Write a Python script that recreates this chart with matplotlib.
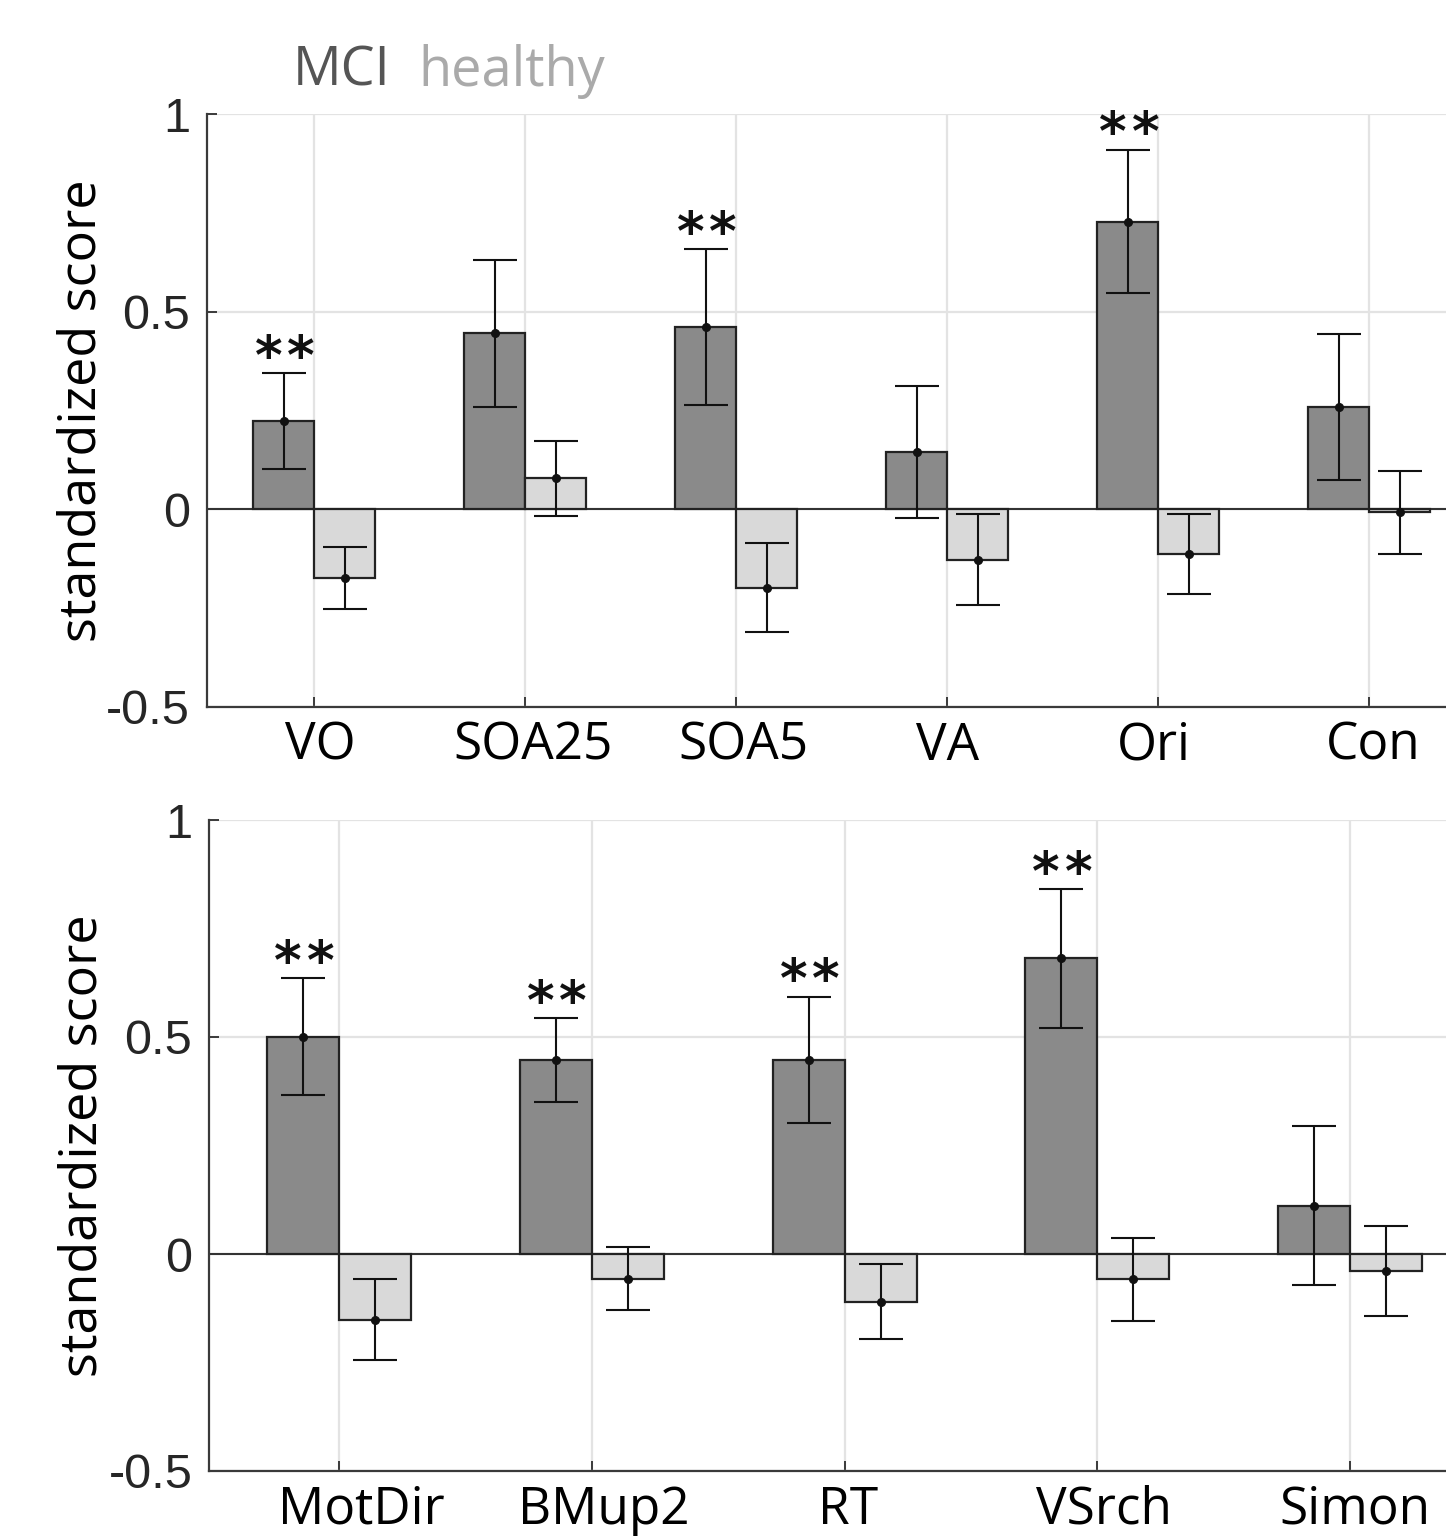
import matplotlib
matplotlib.use("Agg")
import matplotlib.pyplot as plt
import numpy as np

# ---- data ----
top_cats = ["VO", "SOA25", "SOA5", "VA", "Ori", "Con"]
top_mci = [0.223, 0.445, 0.462, 0.144, 0.728, 0.258]
top_mci_err = [0.121, 0.186, 0.197, 0.167, 0.182, 0.185]
top_healthy = [-0.174, 0.078, -0.198, -0.127, -0.113, -0.008]
top_healthy_err = [0.079, 0.094, 0.112, 0.116, 0.101, 0.105]
top_sig = [True, False, True, False, True, False]

bot_cats = ["MotDir", "BMup2", "RT", "VSrch", "Simon"]
bot_mci = [0.501, 0.447, 0.447, 0.681, 0.111]
bot_mci_err = [0.135, 0.096, 0.146, 0.160, 0.183]
bot_healthy = [-0.151, -0.057, -0.110, -0.058, -0.039]
bot_healthy_err = [0.093, 0.073, 0.086, 0.096, 0.104]
bot_sig = [True, True, True, True, False]

yticks = [-0.5, 0, 0.5, 1]
ytick_labels = ["-0.5", "0", "0.5", "1"]

# small horizontal nudges of the category labels (pixels), as in the original
top_label_shift = [6, 8, 7, 0, -5, 4]
bot_label_shift = [22, 12, 3, 7, 5]

MCI_COLOR = "#8a8a8a"
HEALTHY_COLOR = "#d9d9d9"
EDGE = "#222222"
GRID = "#e3e3e3"
SPINE = "#3a3a3a"

W, H = 1446, 1540
DPI = 100
PX = 72.0 / DPI  # points per pixel
fig = plt.figure(figsize=(W / DPI, H / DPI), dpi=DPI)


def draw(ax, cats, mci, mci_err, healthy, healthy_err, sig, width, xlim,
         shifts, label_x):
    x = np.arange(1, len(cats) + 1)
    ax.set_xlim(*xlim)
    ax.set_ylim(-0.5, 1)
    ax.set_axisbelow(True)
    ax.grid(True, color=GRID, linewidth=1.6)
    ax.axhline(0, color="#333333", linewidth=1.5, zorder=1.5)
    ax.bar(x - width / 2, mci, width, color=MCI_COLOR, edgecolor=EDGE,
           linewidth=1.6, zorder=2)
    ax.bar(x + width / 2, healthy, width, color=HEALTHY_COLOR, edgecolor=EDGE,
           linewidth=1.6, zorder=2)
    ekw = dict(fmt="o", color="#111111", ecolor="#111111", markersize=5.5,
               elinewidth=1.5, capsize=16, capthick=1.5, zorder=3)
    ax.errorbar(x - width / 2, mci, yerr=mci_err, **ekw)
    ax.errorbar(x + width / 2, healthy, yerr=healthy_err, **ekw)
    for xi, v, e, s in zip(x, mci, mci_err, sig):
        if s:
            for dx in (-11.0, 12.5):
                ax.annotate("*", xy=(xi - width / 2, v + e), xytext=(dx, -0.5),
                            textcoords="offset points", ha="center",
                            va="baseline", fontfamily="DejaVu Sans",
                            fontweight="bold", fontsize=38, color="#111111")
    ax.set_xticks(x)
    ax.set_xticklabels([])
    for xi, cat, sh in zip(x, cats, shifts):
        ax.annotate(cat, xy=(xi, 0), xycoords=ax.get_xaxis_transform(),
                    xytext=(sh * PX, -10), textcoords="offset points",
                    ha="center", va="top", fontfamily="Open Sans",
                    fontsize=37, color="black", annotation_clip=False)
    ax.set_yticks(yticks)
    ax.set_yticklabels(ytick_labels, fontfamily="Liberation Sans", fontsize=35,
                       color="#262626")
    ax.tick_params(axis="x", direction="in", length=7, width=1.4, color=SPINE,
                   pad=10)
    ax.tick_params(axis="y", direction="in", length=7, width=1.4, color=SPINE,
                   pad=12)
    for side in ("top", "right"):
        ax.spines[side].set_visible(False)
    for side in ("left", "bottom"):
        ax.spines[side].set_color(SPINE)
        ax.spines[side].set_linewidth(1.6)
    ax.set_ylabel("standardized score", fontfamily="Open Sans", fontsize=37.5,
                  color="black")
    ax.yaxis.set_label_coords(label_x, 0.5)


l1 = 206.7
ax1 = fig.add_axes([l1 / W, 1 - 707 / H, (W - l1) / W, (707 - 114) / H])
draw(ax1, top_cats, top_mci, top_mci_err, top_healthy, top_healthy_err,
     top_sig, 0.289, (0.49, 6.363), top_label_shift, (108 - l1) / (W - l1))

l2 = 209
ax2 = fig.add_axes([l2 / W, 1 - 1471 / H, (W - l2) / W, (1471 - 820) / H])
draw(ax2, bot_cats, bot_mci, bot_mci_err, bot_healthy, bot_healthy_err,
     bot_sig, 0.285, (0.486, 5.379), bot_label_shift, (108 - l2) / (W - l2))

fig.text(293 / W, 1 - 86 / H, "MCI", fontfamily="Open Sans", fontsize=39,
         color="#555555", ha="left", va="baseline")
fig.text(418 / W, 1 - 86 / H, "healthy", fontfamily="Open Sans", fontsize=39,
         color="#aaaaaa", ha="left", va="baseline")

fig.savefig("out.png", dpi=DPI)
